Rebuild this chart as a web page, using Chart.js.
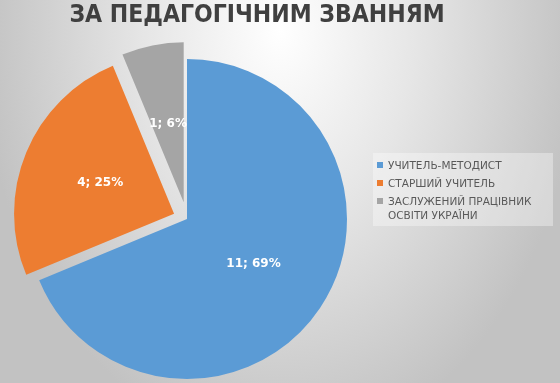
<!DOCTYPE html>
<html>
<head>
<meta charset="utf-8">
<script src="https://cdn.jsdelivr.net/npm/chart.js@4.4.1/dist/chart.umd.min.js"></script>
<style>
  html, body { margin: 0; padding: 0; width: 560px; height: 383px; overflow: hidden; }
  #wrap {
    position: relative; width: 560px; height: 383px;
    background: radial-gradient(ellipse 300px 420px at 280px 30px, #ffffff 0%, #e6e6e6 45%, #c2c2c2 100%);
  }
  #c { position: absolute; left: 0; top: 0; }
  #title {
    position: absolute; left: 0; top: 0; width: 514px; text-align: center;
    font-family: "DejaVu Sans Condensed", "DejaVu Sans", sans-serif; font-weight: bold;
    font-size: 24.5px; line-height: 28px; color: #404040; white-space: nowrap;
  }
  #legend {
    position: absolute; left: 373px; top: 153px; width: 180px; height: 73px;
    background: rgba(255,255,255,0.35); box-sizing: border-box; padding: 5px 0 0 4px;
    font-family: "DejaVu Sans", sans-serif; font-size: 10.5px; color: #595959;
  }
  .item { display: flex; align-items: flex-start; margin-bottom: 4px; }
  .sw { width: 6px; height: 6px; margin: 4px 5px 0 0; flex: none; }
  .tx { line-height: 14px; width: 165px; }
</style>
</head>
<body>
<div id="wrap">
  <canvas id="c" width="560" height="383"></canvas>
  <div id="title"></div>
  <div id="legend"></div>
</div>
<script>
const chartTitle = 'ЗА ПЕДАГОГІЧНИМ ЗВАННЯМ';
const categories = ['УЧИТЕЛЬ-МЕТОДИСТ', 'СТАРШИЙ УЧИТЕЛЬ', 'ЗАСЛУЖЕНИЙ ПРАЦІВНИК ОСВІТИ УКРАЇНИ'];
const values = [11, 4, 1];
const colors = ['#5B9BD5', '#ED7D31', '#A5A5A5'];
const explodePx = [0, 14, 17];

document.getElementById('title').textContent = chartTitle;
const legendEl = document.getElementById('legend');
categories.forEach((name, i) => {
  const it = document.createElement('div'); it.className = 'item';
  const sw = document.createElement('div'); sw.className = 'sw'; sw.style.background = colors[i];
  const tx = document.createElement('div'); tx.className = 'tx'; tx.textContent = name;
  it.appendChild(sw); it.appendChild(tx); legendEl.appendChild(it);
});

const explodePlugin = {
  id: 'explode',
  afterDatasetUpdate(chart, args) {
    const meta = chart.getDatasetMeta(args.index);
    meta.data.forEach((arc, i) => {
      const d = explodePx[i] || 0;
      const mid = (arc.startAngle + arc.endAngle) / 2;
      arc.x += Math.cos(mid) * d;
      arc.y += Math.sin(mid) * d;
    });
  }
};

const labelPlugin = {
  id: 'sliceLabels',
  afterDatasetsDraw(chart) {
    const ctx = chart.ctx;
    const meta = chart.getDatasetMeta(0);
    const data = chart.data.datasets[0].data;
    const total = data.reduce((a, b) => a + b, 0);
    ctx.save();
    ctx.fillStyle = '#ffffff';
    ctx.font = 'bold 12px "DejaVu Sans", sans-serif';
    ctx.textAlign = 'center';
    ctx.textBaseline = 'middle';
    meta.data.forEach((arc, i) => {
      const mid = (arc.startAngle + arc.endAngle) / 2;
      const r = arc.outerRadius * 0.5;
      const x = arc.x + Math.cos(mid) * r;
      const y = arc.y + Math.sin(mid) * r;
      const pct = Math.round(data[i] / total * 100);
      ctx.fillText(data[i] + '; ' + pct + '%', x, y);
    });
    ctx.restore();
  }
};

new Chart(document.getElementById('c'), {
  type: 'pie',
  data: {
    labels: categories,
    datasets: [{ data: values, backgroundColor: colors, borderWidth: 0 }]
  },
  options: {
    responsive: false,
    animation: false,
    events: [],
    layout: { padding: { left: 27, top: 59, right: 213, bottom: 4 } },
    plugins: { legend: { display: false }, title: { display: false }, tooltip: { enabled: false } }
  },
  plugins: [explodePlugin, labelPlugin]
});
</script>
</body>
</html>
